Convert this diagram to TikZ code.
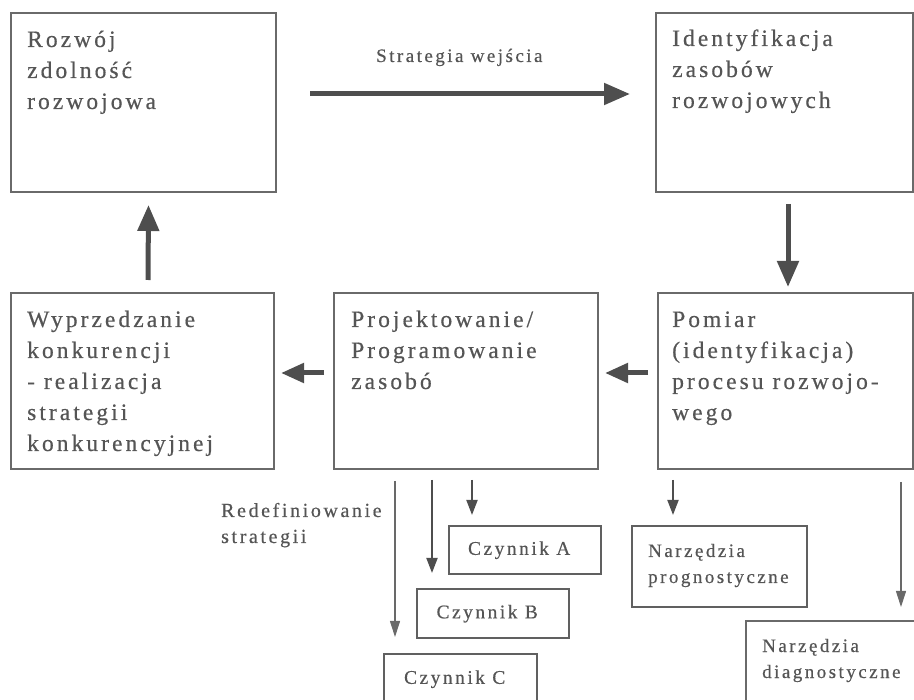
\documentclass[tikz,border=0pt]{standalone}
\usepackage{fontspec}
\setmainfont{Liberation Serif}[LetterSpace=13,FakeBold=0.5]
\usetikzlibrary{arrows.meta,calc}
\definecolor{boxgray}{HTML}{6A6A6A}
\definecolor{arrowgray}{HTML}{4E4E4E}
\definecolor{txtgray}{HTML}{555555}
\begin{document}
\begin{tikzpicture}[x=1pt,y=-1pt,
  frame/.style={draw=boxgray, line width=2pt, inner sep=0pt, anchor=north west},
  smallframe/.style={draw=arrowgray!90, line width=2.4pt, inner sep=0pt, anchor=north west,
    text=txtgray, font=\fontsize{19.4}{26}\selectfont},
  bigtxt/.style={anchor=base west, inner sep=0pt, text=txtgray, font=\fontsize{23.5}{31}\selectfont},
  smalltxt/.style={anchor=base west, inner sep=0pt, text=txtgray, font=\fontsize{19}{26}\selectfont},
  bigarrow/.style={draw=arrowgray, line width=5pt, -{Triangle[length=26pt,width=21pt]}},
  midarrow/.style={draw=arrowgray, line width=5pt, -{Triangle[length=23pt,width=19pt]}},
  thinarrow/.style={draw=arrowgray, line width=1.8pt, -{Triangle[length=15pt,width=11pt]}},
  hairarrow/.style={draw=arrowgray!85, line width=1.1pt, -{Triangle[length=16pt,width=10pt]}}
]
\useasboundingbox (0,0) rectangle (914,700);
\clip (0,0) rectangle (914,700);

% main boxes
\node[frame, minimum width=265pt, minimum height=179pt] (b1) at (10,12) {};
\node[frame, minimum width=257pt, minimum height=179pt] (b2) at (655,12) {};
\node[frame, minimum width=263pt, minimum height=176pt] (b3) at (10,292) {};
\node[frame, minimum width=264pt, minimum height=176pt] (b4) at (333,292) {};
\node[frame, minimum width=255pt, minimum height=176pt] (b5) at (657,292) {};

% box texts
\node[bigtxt] (t1) at (27,47) {\parbox[t]{240pt}{\raggedright Rozwój\\zdolność\\rozwojowa}};
\node[bigtxt] (t2) at (672,46) {\parbox[t]{240pt}{\raggedright Identyfikacja\\zasobów\\rozwojowych}};
\node[bigtxt] (t3) at (27,327) {\parbox[t]{240pt}{\raggedright Wyprzedzanie\\konkurencji\\- realizacja\\strategii\\konkurencyjnej}};
\node[bigtxt] (t4) at (351,327) {\parbox[t]{240pt}{\raggedright Projektowanie/\\Programowanie\\zasobó}};
\node[bigtxt] (t5) at (672,327) {\parbox[t]{240pt}{\raggedright Pomiar\\(identyfikacja)\\procesu rozwojo-\\wego}};

% cycle arrows
\node[smalltxt] (lab) at (376,62) {Strategia wejścia};
\draw[bigarrow] ($(b1.east)+(33,-8.5)$) -- ($(b2.west)+(-25,-8.5)$);
\draw[bigarrow] ($(b2.south)+(3.5,11)$) -- ($(b5.south -| b2.south)+(3.5,-183)$);
\draw[midarrow] ($(b5.west)+(-9,-8)$) -- ($(b4.east)+(6,-8)$);
\draw[midarrow] ($(b4.west)+(-9,-8)$) -- ($(b3.east)+(6,-8)$);
\draw[bigarrow] ($(b3.north)+(5.5,-12)$) -- ($(b1.south)+(5,12)$);

% factor boxes
\node[smallframe, minimum width=152pt, minimum height=48pt] (cA) at (448,525) {Czynnik A\hspace*{12pt}};
\node[smallframe, minimum width=152pt, minimum height=49pt] (cB) at (416,588) {Czynnik B\hspace*{12pt}};
\node[smallframe, minimum width=153pt, minimum height=50pt] (cC) at (383,653) {Czynnik C\hspace*{12pt}};

% tool boxes
\node[smallframe, minimum width=175pt, minimum height=81pt] (nP) at (631,525) {};
\node[smallframe, draw=boxgray, line width=2pt, minimum width=190pt, minimum height=100pt] (nD) at (745,620) {};
\node[smalltxt] (tP) at (648,557) {\parbox[t]{160pt}{\raggedright Narzędzia\\prognostyczne}};
\node[smalltxt] (tD) at (762,652) {\parbox[t]{160pt}{\raggedright Narzędzia\\diagnostyczne}};

% redefinition label
\node[smalltxt, font=\fontsize{20}{26}\selectfont] (red) at (221,517) {\parbox[t]{200pt}{\raggedright Redefiniowanie\\strategii}};

% arrows below the lower row
\draw[hairarrow] ($(b4.south west)+(62,11)$) -- ($(cC.north west)+(12,-16)$);
\draw[thinarrow] ($(b4.south west)+(99,10)$) -- ($(cB.north west)+(16,-15)$);
\draw[thinarrow] ($(b4.south west)+(139,10)$) -- ($(cA.north west)+(24,-10)$);
\draw[thinarrow] ($(b5.south west)+(16,10)$) -- ($(nP.north west)+(42,-10)$);
\draw[hairarrow] ($(b5.south west)+(244,12)$) -- ($(nD.north west)+(156,-13)$);
\end{tikzpicture}
\end{document}
